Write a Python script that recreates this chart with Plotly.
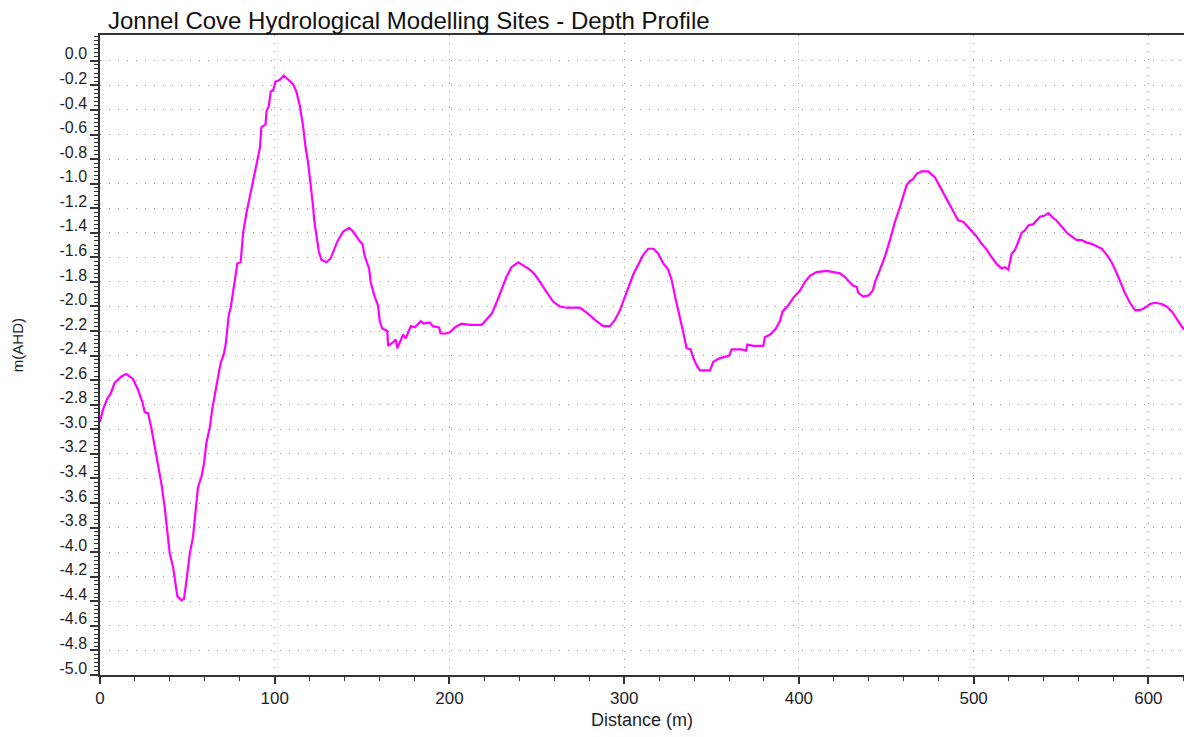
import plotly.graph_objects as go

# Distance along the transect (m)
distance_m = [
    0, 1.7, 4.2, 6.1, 8.4, 12.2, 15.1, 18.9, 21.8, 24.3, 25.6, 27.5, 29.4, 31.3, 33.2, 35.1,
    37.0, 38.6, 39.9, 41.8, 43.2, 44.3, 46.6, 48.1, 49.5, 51.4, 53.2, 54.6, 56.1, 58.0, 59.5,
    60.9, 62.9, 64.2, 65.7, 68.0, 69.1, 71.0, 72.0, 72.9, 73.7, 74.8, 76.2, 77.1, 78.6, 80.5,
    81.9, 83.8, 85.7, 87.0, 88.5, 90.1, 91.5, 92.4, 94.7, 95.3, 96.6, 97.7, 99.1, 100.4,
    102.9, 105.2, 107.6, 110.5, 112.4, 114.4, 116.3, 117.6, 119.1, 120.7, 122.0, 122.6,
    123.9, 125.2, 126.7, 129.6, 131.9, 133.8, 136.2, 139.2, 142.6, 144.9, 146.8, 148.7,
    150.2, 151.5, 154.0, 155.0, 157.2, 159.1, 160.1, 161.6, 164.4, 164.9, 167.8, 169.3,
    170.1, 171.6, 173.5, 175.0, 177.9, 180.2, 183.6, 185.3, 188.8, 190.4, 194.1, 194.9,
    197.9, 200.2, 203.1, 206.9, 211.6, 218.4, 221.2, 224.1, 226.9, 229.8, 232.6, 235.5,
    239.4, 242.6, 246.0, 248.9, 251.7, 255.6, 259.3, 263.1, 267.1, 274.7, 279.4, 284.2,
    288.0, 291.8, 294.7, 297.6, 300.4, 303.3, 305.2, 308.0, 310.9, 313.7, 316.7, 319.5,
    322.4, 325.2, 327.1, 329.6, 331.9, 333.8, 335.7, 338.0, 339.6, 341.5, 343.4, 349.1,
    351.0, 354.8, 357.6, 360.1, 361.5, 364.8, 367.3, 369.7, 370.5, 373.9, 379.6, 380.5,
    383.4, 386.8, 389.1, 390.7, 393.9, 396.8, 400.6, 403.5, 406.3, 410.1, 415.8, 419.7,
    423.5, 426.4, 428.3, 430.8, 433.1, 434.0, 436.8, 439.8, 442.3, 443.6, 446.4, 449.3,
    452.1, 455.0, 457.8, 459.7, 461.7, 463.6, 465.5, 467.4, 470.3, 474.0, 476.0, 477.9,
    479.8, 481.7, 483.6, 485.5, 487.4, 489.3, 491.2, 494.1, 496.0, 498.9, 501.7, 504.6,
    507.1, 509.4, 511.3, 513.5, 516.1, 517.9, 519.8, 521.8, 523.7, 525.6, 527.5, 529.4,
    531.3, 534.1, 536.1, 538.0, 540.8, 542.7, 545.6, 547.5, 550.4, 553.3, 556.1, 559.0,
    561.9, 564.7, 567.6, 570.4, 573.3, 576.2, 579.0, 581.9, 584.2, 586.6, 589.5, 592.4,
    595.2, 598.1, 601.0, 603.8, 607.7, 610.5, 613.4, 616.3, 619.1, 620.4,
]

# Bed elevation (m AHD)
depth_m_ahd = [
    -2.94, -2.84, -2.75, -2.71, -2.62, -2.57, -2.55, -2.59, -2.68, -2.78, -2.86, -2.87, -2.99,
    -3.14, -3.31, -3.44, -3.63, -3.85, -4.01, -4.12, -4.28, -4.36, -4.39, -4.38, -4.23, -4.01,
    -3.88, -3.66, -3.47, -3.39, -3.28, -3.11, -2.98, -2.84, -2.71, -2.54, -2.46, -2.38, -2.30,
    -2.19, -2.07, -2.01, -1.89, -1.81, -1.65, -1.64, -1.40, -1.24, -1.11, -1.00, -0.89, -0.78,
    -0.71, -0.54, -0.52, -0.41, -0.37, -0.25, -0.24, -0.17, -0.155, -0.12, -0.155, -0.19,
    -0.25, -0.37, -0.54, -0.70, -0.83, -1.02, -1.19, -1.30, -1.43, -1.55, -1.62, -1.64,
    -1.61, -1.54, -1.46, -1.39, -1.36, -1.39, -1.43, -1.47, -1.49, -1.59, -1.69, -1.81,
    -1.92, -1.99, -2.12, -2.18, -2.20, -2.32, -2.29, -2.27, -2.34, -2.29, -2.23, -2.26,
    -2.16, -2.17, -2.12, -2.14, -2.13, -2.16, -2.17, -2.22, -2.22, -2.21, -2.17, -2.14,
    -2.15, -2.15, -2.11, -2.06, -1.97, -1.87, -1.76, -1.68, -1.64, -1.67, -1.70, -1.74,
    -1.80, -1.88, -1.96, -2.00, -2.01, -2.01, -2.06, -2.12, -2.16, -2.16, -2.11, -2.03,
    -1.92, -1.81, -1.74, -1.66, -1.58, -1.53, -1.53, -1.57, -1.65, -1.70, -1.78, -1.95,
    -2.08, -2.21, -2.34, -2.35, -2.42, -2.48, -2.52, -2.52, -2.45, -2.42, -2.41, -2.40,
    -2.35, -2.35, -2.35, -2.36, -2.31, -2.32, -2.32, -2.25, -2.23, -2.18, -2.12, -2.04,
    -1.99, -1.93, -1.87, -1.80, -1.75, -1.72, -1.71, -1.72, -1.73, -1.76, -1.79, -1.83,
    -1.84, -1.89, -1.92, -1.91, -1.87, -1.80, -1.70, -1.59, -1.46, -1.31, -1.19, -1.11,
    -1.01, -0.98, -0.96, -0.92, -0.90, -0.90, -0.93, -0.95, -1.00, -1.05, -1.11, -1.16,
    -1.21, -1.25, -1.30, -1.31, -1.34, -1.39, -1.43, -1.49, -1.53, -1.58, -1.62, -1.66,
    -1.69, -1.68, -1.70, -1.57, -1.54, -1.47, -1.40, -1.38, -1.34, -1.33, -1.30, -1.27,
    -1.26, -1.24, -1.28, -1.30, -1.35, -1.40, -1.43, -1.46, -1.46, -1.48, -1.49, -1.51,
    -1.53, -1.58, -1.64, -1.73, -1.81, -1.89, -1.97, -2.03, -2.03, -2.01, -1.98, -1.97,
    -1.98, -2.00, -2.04, -2.10, -2.16, -2.19,
]

title_text = "Jonnel Cove Hydrological Modelling Sites - Depth Profile"
x_title = "Distance (m)"
y_title = "m(AHD)"
x_ticks = [0, 100, 200, 300, 400, 500, 600]
y_ticks = [round(-5.0 + 0.2 * i, 1) for i in range(26)]

FONT = "Arial, Liberation Sans, sans-serif"
TXT = "#1e1e28"

fig = go.Figure()
fig.add_trace(go.Scatter(
    x=distance_m, y=depth_m_ahd, mode="lines",
    line=dict(color="#ff00ff", width=2.2),
    showlegend=False, hoverinfo="x+y",
))

fig.update_layout(
    width=1184, height=737,
    margin=dict(l=100, r=0, t=35, b=62, autoexpand=False),
    paper_bgcolor="white", plot_bgcolor="white",
    font=dict(family=FONT, color=TXT, size=16),
    title=dict(text=title_text, x=108 / 1184, xanchor="left", xref="container",
               y=1 - 21 / 737, yanchor="middle", yref="container",
               font=dict(size=24, color="#111111", family=FONT)),
    xaxis=dict(
        range=[0, 620.4], tickvals=x_ticks, ticktext=[str(t) for t in x_ticks],
        automargin=False,
        showline=True, linecolor="#333333", linewidth=1.5, mirror=True,
        ticks="outside", ticklen=7, tickcolor="#333333", tickwidth=1.5,
        tickfont=dict(size=17, color=TXT),
        showgrid=True, gridcolor="#9a9a9a", gridwidth=1, griddash="1px,7px",
        minor=dict(dtick=20, tick0=0, ticks="outside", ticklen=4, tickcolor="#333333",
                   tickwidth=1.2, showgrid=False),
        zeroline=False,
    ),
    yaxis=dict(
        range=[-5.0, 0.21], tickvals=y_ticks, ticktext=[f"{t:.1f}" for t in y_ticks],
        automargin=False,
        showline=True, linecolor="#333333", linewidth=1.5,
        ticks="outside", ticklen=8, tickcolor="#333333", tickwidth=1.5,
        ticklabelshift=-7,
        tickfont=dict(size=16, color=TXT),
        showgrid=True, gridcolor="#9a9a9a", gridwidth=1, griddash="1px,8px",
        minor=dict(dtick=0.2 / 6, tick0=0, ticks="outside", ticklen=4, tickcolor="#333333",
                   tickwidth=1.2, showgrid=False),
        zeroline=False,
    ),
    annotations=[
        dict(text=x_title, xref="paper", yref="paper", x=0.5, y=-(720 - 674.7) / 639.7,
             xanchor="center", yanchor="middle", showarrow=False,
             font=dict(size=18, color=TXT, family=FONT)),
        dict(text=y_title, xref="paper", yref="paper", x=-(100 - 17) / 1084,
             y=(674.7 - 345) / 639.7, xanchor="center", yanchor="middle",
             textangle=-90, showarrow=False,
             font=dict(size=15, color=TXT, family=FONT)),
    ],
)

fig.write_html("out.html",
               config={"displayModeBar": False},
               post_script="document.body.style.margin='0';document.body.style.overflow='hidden';")
